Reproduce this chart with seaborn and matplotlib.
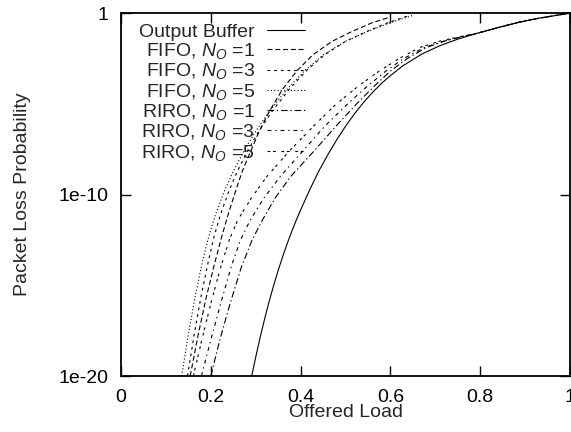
import numpy as np
import pandas as pd
import matplotlib
matplotlib.use("Agg")
import matplotlib.pyplot as plt
import seaborn as sns

# Packet loss probability (as log10) versus offered load for each buffering scheme
out_load = [0.291, 0.30, 0.31, 0.32, 0.33, 0.34, 0.35, 0.36, 0.37, 0.38, 0.39, 0.40, 0.42,
            0.44, 0.46, 0.48, 0.50, 0.52, 0.54, 0.56, 0.58, 0.60, 0.627, 0.67, 0.71, 0.75,
            0.79, 0.84, 0.888, 0.93, 0.977, 1.0]
out_log = [-20, -18.95, -17.85, -16.83, -15.88, -15.0, -14.18, -13.42, -12.71, -12.05, -11.43,
           -10.85, -9.75, -8.73, -7.83, -7.0, -6.24, -5.55, -4.93, -4.38, -3.88, -3.45, -2.92,
           -2.26, -1.8, -1.44, -1.14, -0.8, -0.5, -0.29, -0.1, 0.0]

fifo1_load = [0.154, 0.172, 0.19, 0.208, 0.224, 0.238, 0.255, 0.27, 0.29, 0.308, 0.33, 0.36,
              0.393, 0.427, 0.47, 0.515, 0.56, 0.60]
fifo1_log = [-20, -17.7, -15.64, -13.84, -12.34, -11.14, -9.82, -8.72, -7.54, -6.51, -5.43,
             -4.19, -3.15, -2.31, -1.56, -1.01, -0.53, -0.22]

fifo3_load = [0.148, 0.163, 0.178, 0.193, 0.207, 0.221, 0.24, 0.259, 0.283, 0.307, 0.336, 0.375,
              0.414, 0.453, 0.50, 0.548, 0.595, 0.64]
fifo3_log = [-20, -17.7, -15.64, -13.84, -12.34, -11.14, -9.82, -8.72, -7.54, -6.51, -5.43,
             -4.19, -3.15, -2.31, -1.56, -1.01, -0.53, -0.15]

fifo5_load = [0.135, 0.15, 0.165, 0.18, 0.195, 0.21, 0.23, 0.25, 0.275, 0.30, 0.33, 0.37,
              0.41, 0.45, 0.50, 0.55, 0.60, 0.65]
fifo5_log = [-20, -17.7, -15.64, -13.84, -12.34, -11.14, -9.82, -8.72, -7.54, -6.51, -5.43,
             -4.19, -3.15, -2.31, -1.56, -1.01, -0.53, -0.13]

riro1_load = [0.2, 0.22, 0.243, 0.268, 0.292, 0.315, 0.343, 0.378, 0.43, 0.48, 0.525, 0.565,
              0.60, 0.638, 0.68, 0.72, 0.76, 0.79, 0.84, 0.888, 0.93, 0.977, 1.0]
riro1_log = [-20, -18, -16, -14, -12.5, -11.4, -10.2, -9.0, -7.6, -6.2, -5.0, -4.0,
             -3.2, -2.5, -1.9, -1.55, -1.3, -1.14, -0.8, -0.5, -0.29, -0.1, 0.0]

riro3_load = [0.179, 0.20, 0.222, 0.245, 0.266, 0.288, 0.318, 0.355, 0.405, 0.455, 0.505, 0.55,
              0.59, 0.63, 0.675, 0.72, 0.76, 0.79, 0.84, 0.888, 0.93, 0.977, 1.0]
riro3_log = [-20, -18, -16, -14, -12.5, -11.4, -10.2, -9.0, -7.6, -6.2, -5.0, -4.0,
             -3.2, -2.5, -1.9, -1.55, -1.3, -1.14, -0.8, -0.5, -0.29, -0.1, 0.0]

riro5_load = [0.161, 0.18, 0.20, 0.222, 0.241, 0.26, 0.29, 0.325, 0.375, 0.43, 0.48, 0.53,
              0.575, 0.62, 0.665, 0.71, 0.755, 0.79, 0.84, 0.888, 0.93, 0.977, 1.0]
riro5_log = [-20, -18, -16, -14, -12.5, -11.4, -10.2, -9.0, -7.6, -6.2, -5.0, -4.0,
             -3.2, -2.5, -1.9, -1.55, -1.3, -1.14, -0.8, -0.5, -0.29, -0.1, 0.0]

labels = [
    "Output Buffer",
    r"FIFO, $N_O$ =1",
    r"FIFO, $N_O$ =3",
    r"FIFO, $N_O$ =5",
    r"RIRO, $N_O$ =1",
    r"RIRO, $N_O$ =3",
    r"RIRO, $N_O$ =5",
]
series = [
    (out_load, out_log),
    (fifo1_load, fifo1_log),
    (fifo3_load, fifo3_log),
    (fifo5_load, fifo5_log),
    (riro1_load, riro1_log),
    (riro3_load, riro3_log),
    (riro5_load, riro5_log),
]

frames = []
for name, (load, lg) in zip(labels, series):
    frames.append(pd.DataFrame({
        "load": load,
        "loss": np.power(10.0, np.asarray(lg, dtype=float)),
        "scheme": name,
    }))
df = pd.concat(frames, ignore_index=True)

dash_styles = {
    labels[0]: "",
    labels[1]: (4.5, 2.5),
    labels[2]: (2.5, 3.5),
    labels[3]: (1, 2),
    labels[4]: (6, 2.5, 1.2, 2.5),
    labels[5]: (3.5, 3.5, 1.2, 3.5),
    labels[6]: (2.5, 2.5, 2.5, 5),
}
palette = {name: "black" for name in labels}

sns.set_style("ticks")
plt.rcParams["font.family"] = ["Liberation Sans", "DejaVu Sans"]
plt.rcParams["mathtext.fontset"] = "custom"
plt.rcParams["mathtext.rm"] = "Liberation Sans"
plt.rcParams["mathtext.it"] = "Liberation Sans:italic"

FS = 14

fig = plt.figure(figsize=(5.71, 4.32), dpi=100)
ax = fig.add_axes([0.212, 0.1296, 0.7863, 0.8403])

sns.lineplot(data=df, x="load", y="loss", hue="scheme", style="scheme",
             hue_order=labels, style_order=labels, palette=palette,
             dashes=dash_styles, sort=False, errorbar=None, linewidth=0.8,
             ax=ax)

ax.set_yscale("log")
ax.set_xlim(0, 1)
ax.set_ylim(1e-20, 1)
ax.set_xticks([0, 0.2, 0.4, 0.6, 0.8, 1.0])
ax.set_xticklabels(["0", "0.2", "0.4", "0.6", "0.8", "1"])
ax.set_yticks([1e-20, 1e-10, 1])
ax.set_yticklabels(["1e-20", "1e-10", "1"])
ax.yaxis.set_minor_locator(matplotlib.ticker.NullLocator())
ax.tick_params(direction="in", length=7, width=1.0, top=True, right=True,
               labelsize=FS, colors="black")
ax.tick_params(axis="x", pad=9)
ax.tick_params(axis="y", pad=9)
for sp in ax.spines.values():
    sp.set_linewidth(1.3)
    sp.set_color("black")

ax.set_xlabel("Offered Load", fontsize=FS, labelpad=-1)
ax.set_ylabel("Packet Loss Probability", fontsize=FS, labelpad=20)

handles, hlabels = ax.get_legend_handles_labels()
ax.legend(handles, hlabels, loc="upper right", bbox_to_anchor=(0.41, 0.972),
          markerfirst=False, frameon=False, fontsize=FS, handlelength=1.96,
          handletextpad=0.62, labelspacing=0.015, borderpad=0, borderaxespad=0)

fig.savefig("out.png", dpi=100)
